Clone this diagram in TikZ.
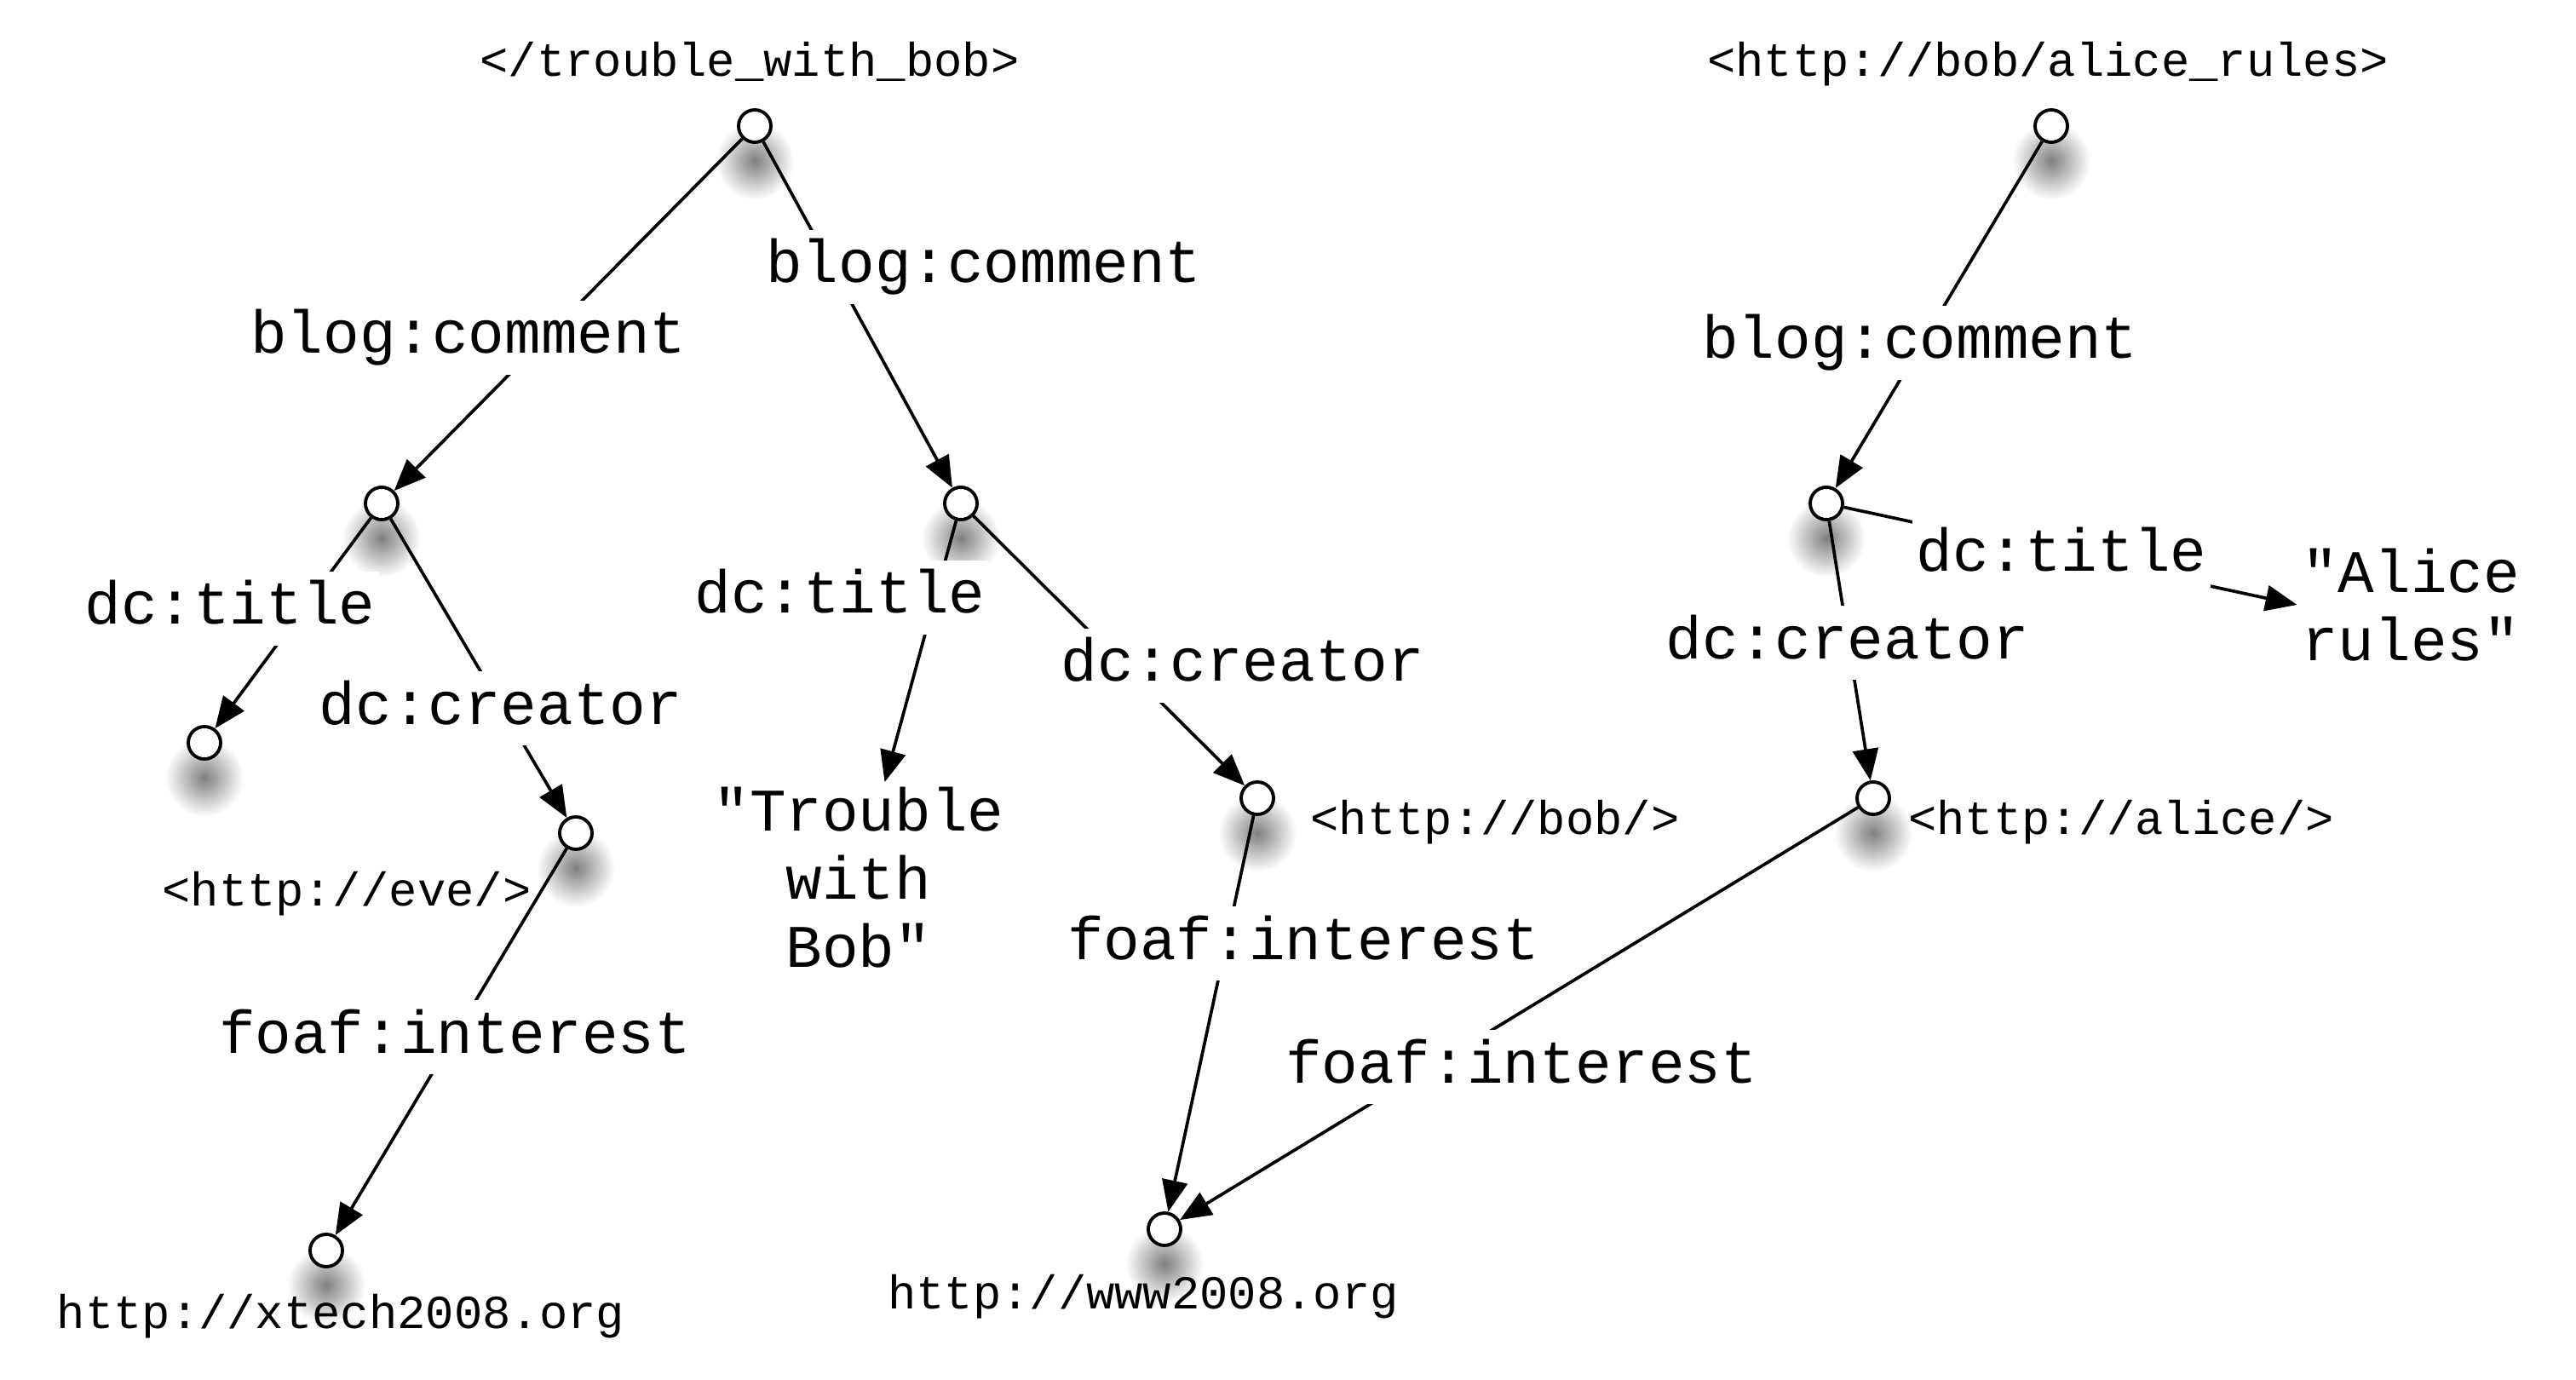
\documentclass[tikz,border=0pt]{standalone}
\usepackage{fontspec}
\setmonofont{Liberation Mono}
\usepackage{tikz}
\usetikzlibrary{arrows.meta,shadows,fadings}
\tikzfading[name=soft shadow, inner color=transparent!0, outer color=transparent!100]
\tikzset{% 
  resource/.style={%
    circle,
    draw,
    fill=white,
    line width=1.1pt,
    minimum size=0.38cm,
    inner sep=0pt,
    circular drop shadow={shadow scale=2.4, shadow xshift=0cm,
      shadow yshift=-0.17cm, opacity=0.5, fill=black,
      path fading=soft shadow}
  }
}
\tikzset{% 
  property/.style={%
    font=\ttfamily\fontsize{20.2}{22.8}\selectfont,
    fill=white,
    anchor=base,
    text height=0.57cm,
    text depth=0.2cm,
    inner sep=0.05cm
  }
}
\tikzset{% 
  literal/.style={%
    font=\ttfamily\fontsize{20.2}{22.8}\selectfont,
    align=center,
    inner sep=0.05cm
  }
}
\tikzset{% 
  uri/.style={%
    font=\ttfamily\fontsize{15.8}{19}\selectfont,
    anchor=base,
    inner sep=0pt
  }
}
\tikzset{% 
  property arc/.style={%
    line width=1.05pt,
    -{Triangle[length=3.7mm,width=3mm]}
  }
}

\begin{document}
\begin{tikzpicture}
  \useasboundingbox (0,0) rectangle (30.24,-16.2);
  % resources
  \node [resource] (r1) at (8.86, -1.48) {};
  \node [resource] (r2) at (24.08, -1.48) {};
  \node [resource] (a) at (4.48, -5.91) {};
  \node [resource] (b) at (11.28, -5.91) {};
  \node [resource] (c) at (21.44, -5.91) {};
  \node [resource] (f) at (2.40, -8.72) {};
  \node [resource] (g) at (6.76, -9.78) {};
  \node [resource] (i) at (14.76, -9.37) {};
  \node [resource] (d) at (21.99, -9.37) {};
  \node [resource] (h) at (3.83, -14.68) {};
  \node [resource] (e) at (13.67, -14.43) {};
  % literals
  \node [literal] (troub) at (10.08, -10.30) {"Trouble\\with\\Bob"};
  \node [literal] (alice) at (28.30, -7.10) {"Alice\\rules"};
  % arcs
  \draw [property arc] (r1) -- (a);
  \draw [property arc] (r1) -- (b);
  \draw [property arc] (a) -- (f);
  \draw [property arc] (a) -- (g);
  \draw [property arc] (g) -- (h);
  \draw [property arc] (b) -- (troub);
  \draw [property arc] (b) -- (i);
  \draw [property arc] (i) -- (e);
  \draw [property arc] (r2) -- (c);
  \draw [property arc] (c) -- (alice.west);
  \draw [property arc] (c) -- (d);
  \draw [property arc] (d) -- (e);
  % arc labels
  \node [property] (bc1) at (5.50, -4.15) {blog:comment};
  \node [property] (bc2) at (11.55, -3.32) {blog:comment};
  \node [property] (bc3) at (22.54, -4.21) {blog:comment};
  \node [property] (dt1) at (2.70, -7.33) {dc:title};
  \node [property] (dt2) at (9.86, -7.20) {dc:title};
  \node [property] (dt3) at (24.20, -6.71) {dc:title};
  \node [property] (cr1) at (5.88, -8.50) {dc:creator};
  \node [property] (cr2) at (14.59, -8.00) {dc:creator};
  \node [property] (cr3) at (21.69, -7.73) {dc:creator};
  \node [property] (fi1) at (5.34, -12.36) {foaf:interest};
  \node [property] (fi2) at (15.30, -11.26) {foaf:interest};
  \node [property] (fi3) at (17.86, -12.71) {foaf:interest};
  % resource names
  \node [uri] (n1) at (8.80, -0.90) {</trouble\_with\_bob>};
  \node [uri] (n2) at (24.04, -0.90) {<http://bob/alice\_rules>};
  \node [uri] (n3) at (4.07, -10.63) {<http://eve/>};
  \node [uri] (n4) at (17.55, -9.79) {<http://bob/>};
  \node [uri] (n5) at (24.90, -9.79) {<http://alice/>};
  \node [uri] (n6) at (4.00, -15.59) {http://xtech2008.org};
  \node [uri] (n7) at (13.42, -15.36) {http://www2008.org};
\end{tikzpicture}
\end{document}
